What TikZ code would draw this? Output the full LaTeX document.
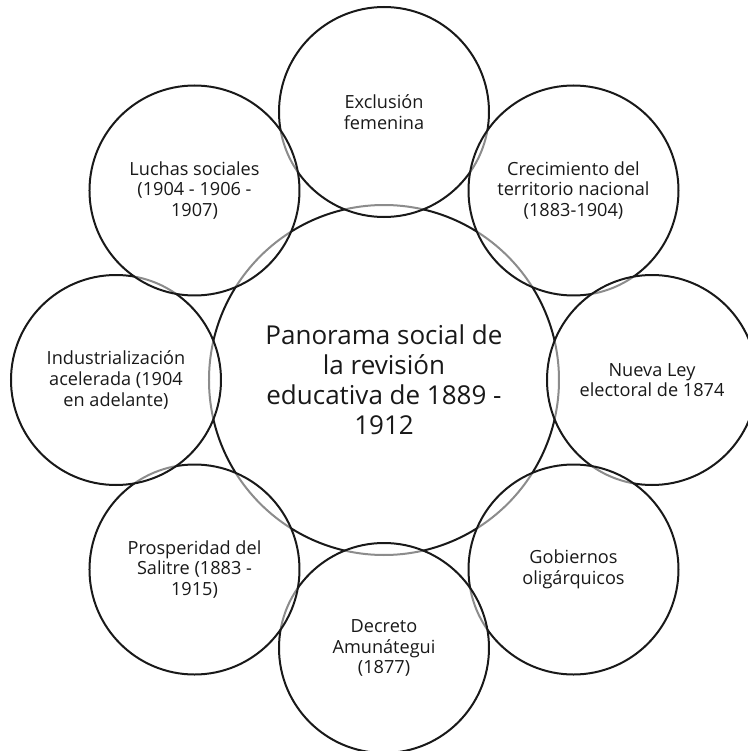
\documentclass[tikz,border=0pt]{standalone}
\usepackage{fontspec}
\setmainfont{Open Sans}

\begin{document}
\begin{tikzpicture}[x=0.75pt,y=0.75pt,
  bubble/.style={circle,draw=black!90,line width=1.5pt,fill=white,fill opacity=.5,text opacity=1,
    text=black!90,minimum size=157.5pt,inner sep=0pt,align=center,font=\fontsize{13.6}{15.5}\selectfont},
  hub/.style={bubble,fill opacity=1,minimum size=262.5pt,font=\fontsize{19.5}{22.5}\selectfont}]

\useasboundingbox (-384,-371) rectangle (364,380);

%Panorama social

\coordinate (c) at (0,0);
\path (c) -- +(90:268) coordinate (p1);
\path (c) -- +(45:268) coordinate (p2);
\path (c) -- +(0:268) coordinate (p3);
\path (c) -- +(-45:268) coordinate (p4);
\path (c) -- +(-90:268) coordinate (p5);
\path (c) -- +(-135:268) coordinate (p6);
\path (c) -- +(180:268) coordinate (p7);
\path (c) -- +(135:268) coordinate (p8);

\node[hub] (hub) at (c) {Panorama social de\\la revisión\\educativa de 1889 -\\1912};

\node[bubble] (excl) at (p1) {Exclusión\\femenina};
\node[bubble] (crec) at (p2) {Crecimiento del\\territorio nacional\\(1883-1904)};
\node[bubble] (ley) at (p3) {Nueva Ley\\electoral de 1874};
\node[bubble] (gob) at (p4) {Gobiernos\\oligárquicos};
\node[bubble] (decr) at (p5) {Decreto\\Amunátegui\\(1877)};
\node[bubble] (salit) at (p6) {Prosperidad del\\Salitre (1883 -\\1915)};
\node[bubble] (indus) at (p7) {Industrialización\\acelerada (1904\\en adelante)};
\node[bubble] (luch) at (p8) {Luchas sociales\\(1904 - 1906 -\\1907)};

\end{tikzpicture}
\end{document}
